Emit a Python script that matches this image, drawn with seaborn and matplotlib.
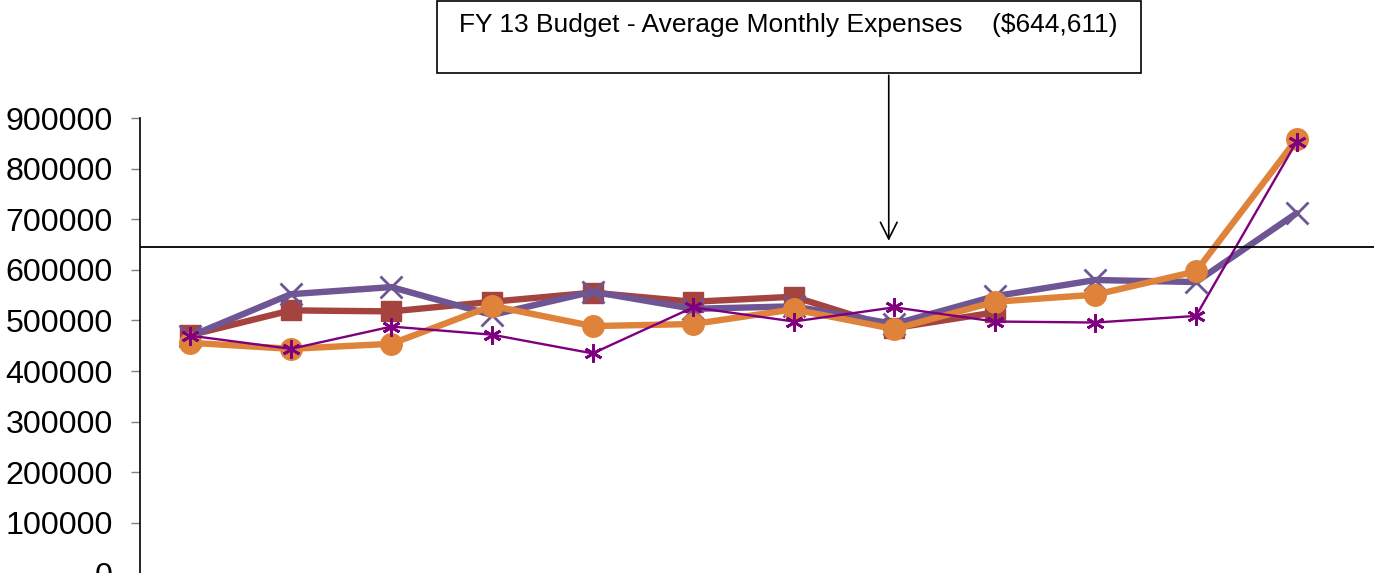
import numpy as np
import pandas as pd
import seaborn as sns
import matplotlib.pyplot as plt
from matplotlib.patches import Rectangle

# monthly expenses (12 months, one series has 9)
months = ["Jul", "Aug", "Sep", "Oct", "Nov", "Dec", "Jan", "Feb", "Mar", "Apr", "May", "Jun"]
red_vals = [471000, 520000, 518000, 537000, 555000, 537000, 547000, 485000, 516000]
purple_vals = [469000, 552000, 566000, 511000, 557000, 523000, 528000, 493000, 548000, 580000, 576000, 712000]
orange_vals = [456000, 444000, 454000, 529000, 489000, 493000, 522000, 483000, 537000, 551000, 597000, 858000]
magenta_vals = [470000, 444000, 488000, 472000, 435000, 526000, 498000, 526000, 498000, 496000, 509000, 853000]
budget = 644611
budget_label = "FY 13 Budget - Average Monthly Expenses    ($644,611)"
y_ticks = [0, 100000, 200000, 300000, 400000, 500000, 600000, 700000, 800000, 900000]

sns.set_style("white")
plt.rcParams['font.family'] = ['Liberation Sans', 'DejaVu Sans']

fig = plt.figure(figsize=(13.74, 5.73), dpi=100)
ax = fig.add_axes([0.1019, -0.001, 0.8981, 0.795])

# series: values, colour, marker, line width, marker size, edge width
series = [
    (red_vals, "#A5443F", "s", 4.6, 14, 1),
    (purple_vals, "#6E5593", "x", 4.6, 16, 2),
    (orange_vals, "#DF833A", "o", 4.6, 15.5, 1),
    (magenta_vals, "#7F007F", (6, 2, 0), 1.7, 13, 2),
]
for vals, col, mk, lw, ms, mew in series:
    df = pd.DataFrame({"month": np.arange(len(vals)), "value": vals})
    sns.lineplot(data=df, x="month", y="value", ax=ax, color=col, marker=mk,
                 lw=lw, markersize=ms, markeredgewidth=mew, markeredgecolor=col)

# budget line + callout
ax.axhline(budget, color="black", lw=1.3)
ax.annotate("", xy=(6.945, 652000), xytext=(6.945, 990000),
            arrowprops=dict(arrowstyle="->", color="black", lw=1.2, mutation_scale=30),
            annotation_clip=False)
fig.patches.append(Rectangle((0.318, 0.8726), 0.5124, 0.126, transform=fig.transFigure,
                             fill=False, edgecolor="black", lw=1.2))
fig.text(0.334, 0.957, budget_label, fontsize=19, va="center", ha="left", color="black")

ax.set_xlim(-0.5, 11.77)
ax.set_ylim(0, 900000)
ax.set_yticks(y_ticks)
ax.set_yticklabels([str(t) for t in y_ticks])
ax.set_xticks([])
ax.set_xlabel("")
ax.set_ylabel("")
ax.tick_params(axis="y", direction="out", length=6.5, width=1, color="#808080",
               labelsize=23.2, labelcolor="black", pad=13, left=True)
for side in ["top", "right", "bottom"]:
    ax.spines[side].set_visible(False)
ax.spines["left"].set_color("black")
ax.spines["left"].set_linewidth(1.2)

fig.savefig("out.png", dpi=100)
